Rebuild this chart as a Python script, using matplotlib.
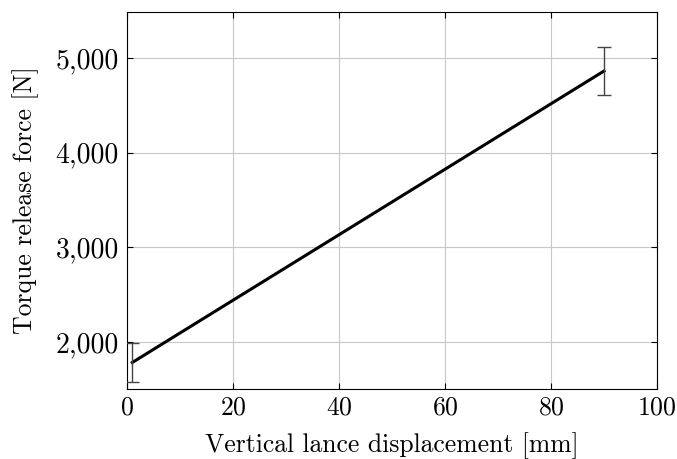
import matplotlib
matplotlib.use('Agg')
import matplotlib.pyplot as plt
from matplotlib.ticker import FuncFormatter

# data
displacement = [1, 90]
force = [1785, 4862]
force_err = [205, 255]

plt.rcParams['font.family'] = 'cmr10'
plt.rcParams['axes.formatter.use_mathtext'] = True
plt.rcParams['font.size'] = 18.5

fig = plt.figure(figsize=(6.77, 4.59), dpi=100)
ax = fig.add_axes([0.1876, 0.1525, 0.7829, 0.8214])

ax.plot(displacement, force, color='black', linewidth=2.2, zorder=3)
ax.errorbar(displacement, force, yerr=force_err, fmt='none', ecolor='#444444',
            elinewidth=1.0, capsize=5, capthick=1.0, zorder=4)

ax.set_xlim(0, 100)
ax.set_ylim(1505, 5485)
ax.set_xticks([0, 20, 40, 60, 80, 100])
ax.set_yticks([2000, 3000, 4000, 5000])
ax.yaxis.set_major_formatter(FuncFormatter(lambda v, p: f"{int(v):,}"))
ax.grid(True, color='#c8c8c8', linewidth=0.8)
ax.set_axisbelow(True)
ax.tick_params(direction='in', top=True, right=True, length=4)
ax.tick_params(axis='x', labelsize=18.5, pad=5)
ax.tick_params(axis='y', labelsize=20, pad=6)
for s in ax.spines.values():
    s.set_linewidth(0.8)

ax.set_xlabel("Vertical lance displacement [mm]", fontsize=18.5, labelpad=9)
ax.set_ylabel("Torque release force [N]", fontsize=18.5, labelpad=12)

fig.savefig('out.png', dpi=100)
